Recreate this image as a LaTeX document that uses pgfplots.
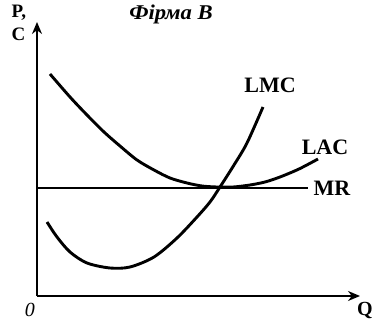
\documentclass[border=0pt]{standalone}
\usepackage{pgfplots}
\pgfplotsset{compat=1.18}
\usetikzlibrary{arrows.meta}
\usepackage{fontspec}
\setmainfont{Liberation Serif}

\begin{document}
\begin{tikzpicture}
\begin{axis}[
    width=323pt, height=274pt, scale only axis,
    xmin=0, xmax=323, ymin=0, ymax=274,
    axis lines=left,
    axis line style={line width=2pt, -{Stealth[length=12pt,width=10pt]}},
    xtick=\empty, ytick=\empty,
    clip=false,
    font=\fontsize{22}{25}\selectfont\bfseries,
]
% LAC
\addplot[black, line width=2.9pt, smooth] coordinates {(13,222)(33,199)(50,181)(67,164)(83,150)(100,136)(117,126)(133,118)(150,113)(165,110)(180,109)(196,109)(213,111)(228,114)(243,119)(262,127)(281,137)};
% MR
\addplot[black, line width=2.9pt] coordinates {(0,108)(271,108)};
% LMC
\addplot[black, line width=2.9pt, smooth] coordinates {(10,74)(20,59)(33,44)(50,33)(73,28)(93,29)(117,39)(140,58)(160,79)(173,94)(183,109)(197,131)(210,153)(226,189)};

\node at (axis cs:233,211) {LMC};
\node at (axis cs:288,149) {LAC};
\node at (axis cs:295,108) {MR};
\node at (axis cs:134,282) {\scalebox{1.08}[1]{\fontsize{21}{24}\selectfont\itshape Фірма B}};
\node[anchor=west] at (axis cs:-29,283) {\fontsize{19}{22}\selectfont P,};
\node[anchor=west] at (axis cs:-29,262) {\fontsize{19}{22}\selectfont C};
\node at (axis cs:-7,-14) {\fontsize{20}{22}\selectfont\mdseries\itshape 0};
\node at (axis cs:328,-14) {\fontsize{20}{22}\selectfont Q};
\coordinate (bl) at (axis cs:-37,-26);
\coordinate (tr) at (axis cs:336,296);
\end{axis}
\pgfresetboundingbox
\path (bl) rectangle (tr);
\end{tikzpicture}
\end{document}
